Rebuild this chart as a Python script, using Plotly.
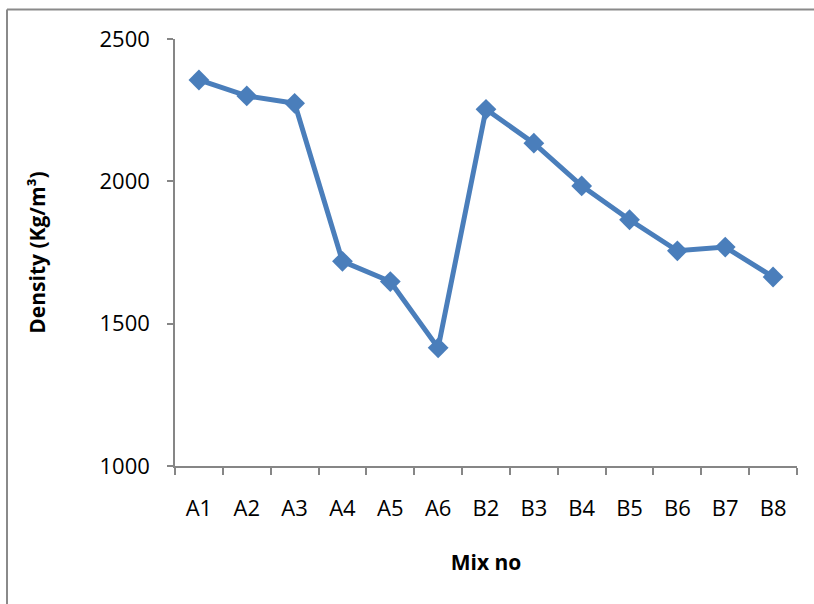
import plotly.graph_objects as go

# Density of each mix
mixes = ["A1", "A2", "A3", "A4", "A5", "A6", "B2", "B3", "B4", "B5", "B6", "B7", "B8"]
density = [2356, 2300, 2274, 1719, 1648, 1415, 2253, 2134, 1984, 1865, 1756, 1769, 1664]

y_ticks = [1000, 1500, 2000, 2500]

W, H = 814, 604
L, R, T, B = 175, 17, 39, 138
pw, ph = W - L - R, H - T - B

FONT = "Open Sans, Carlito, Calibri, sans-serif"
AXIS_GREY = "#868686"
LINE_BLUE = "#4A7EBB"

fig = go.Figure()
fig.add_trace(go.Scatter(
    x=mixes,
    y=density,
    mode="lines+markers",
    line=dict(color=LINE_BLUE, width=5),
    marker=dict(symbol="diamond", size=16, color=LINE_BLUE),
    showlegend=False,
))

# chart-area frame (top and left edges)
fx = (7 - L) / pw
fy = 1 + (T - 9.5) / ph
fig.add_shape(type="line", xref="paper", yref="paper", x0=fx, x1=2, y0=fy, y1=fy,
              line=dict(color="#8a8a8a", width=2))
fig.add_shape(type="line", xref="paper", yref="paper", x0=fx, x1=fx, y0=fy, y1=-2,
              line=dict(color="#8a8a8a", width=2))

fig.update_layout(
    width=W, height=H,
    margin=dict(l=L, r=R, t=T, b=B, autoexpand=False),
    paper_bgcolor="white",
    plot_bgcolor="white",
    font=dict(family=FONT, size=22, color="black"),
    xaxis=dict(
        type="category",
        range=[-0.5, len(mixes) - 0.5],
        tickson="boundaries",
        ticks="outside", ticklen=7, tickcolor=AXIS_GREY, tickwidth=1.5,
        showline=True, linecolor=AXIS_GREY, linewidth=1.5,
        showgrid=False, zeroline=False,
        tickfont=dict(family=FONT, size=22),
        ticklabelstandoff=22,
        title=dict(text="<b>Mix no</b>", font=dict(family=FONT, size=21), standoff=34),
        automargin=False,
    ),
    yaxis=dict(
        range=[1000, 2500],
        tickvals=y_ticks,
        ticks="outside", ticklen=6, tickcolor=AXIS_GREY, tickwidth=1.5,
        showline=True, linecolor=AXIS_GREY, linewidth=1.5,
        showgrid=False, zeroline=False,
        tickfont=dict(family=FONT, size=22),
        ticklabelstandoff=13,
        title=dict(text="<b>Density (Kg/m³)</b>", font=dict(family=FONT, size=21), standoff=48),
        automargin=False,
    ),
)

fig.write_html("out.html")
